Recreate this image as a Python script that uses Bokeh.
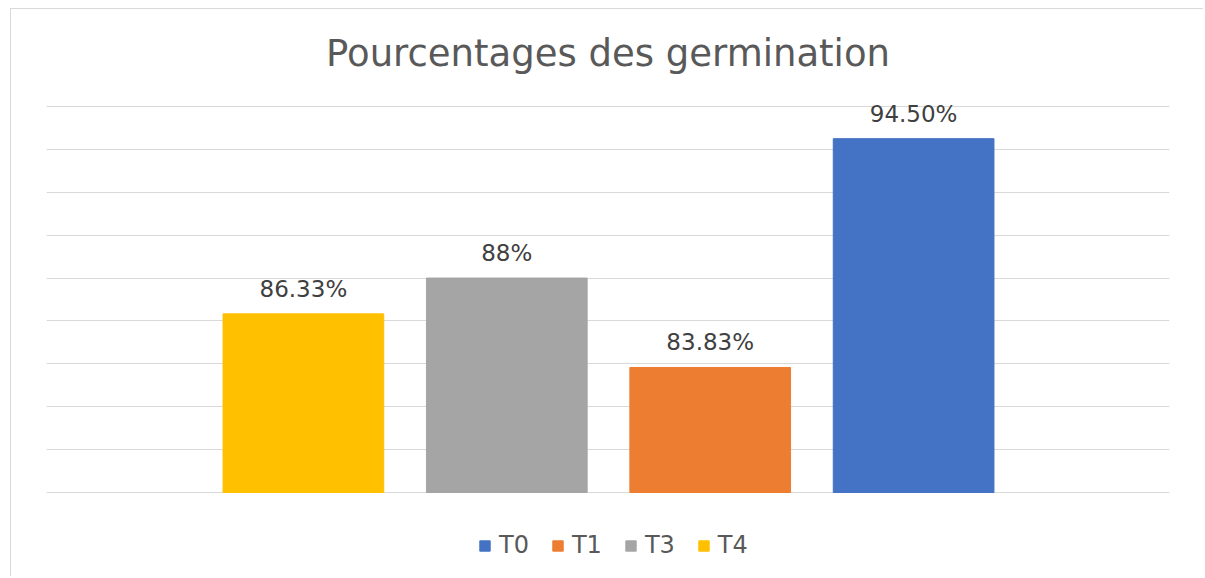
from bokeh.plotting import figure
from bokeh.models import ColumnDataSource, Range1d, FixedTicker, LabelSet, Label, Legend, LegendItem
from bokeh.core.properties import value
from bokeh.embed import file_html
from bokeh.resources import INLINE

# ---- data ----
title_text = "Pourcentages des germination"
series = ["T4", "T3", "T1", "T0"]
values = [86.33, 88.0, 83.83, 94.50]
value_labels = ["86.33%", "88%", "83.83%", "94.50%"]
colors = ["#FFC000", "#A5A5A5", "#ED7D31", "#4472C4"]
legend_order = ["T0", "T1", "T3", "T4"]
y_min, y_max, y_step = 78, 96, 2

FONT = "DejaVu Sans"

# ---- layout constants (pixels) ----
W, H = 1193, 568
B_LEFT, B_RIGHT = 35, 35
GRID_PX = 386.0          # pixel height of the y_min..y_max band
ABOVE_PX = 97.0          # space above the top gridline (title area)
TITLE_PX = 53.0          # title centre distance above top gridline
px_per_unit = GRID_PX / (y_max - y_min)
below_px = H - ABOVE_PX - GRID_PX
y_hi = y_max + ABOVE_PX / px_per_unit
y_lo = y_min - below_px / px_per_unit

src = ColumnDataSource(dict(
    x=list(range(len(series))),
    top=values,
    name=series,
    lab=value_labels,
    color=colors,
))

x_lo, x_hi = -1.263, len(series) - 1 + 1.258
p = figure(width=W, height=H, output_backend="svg", toolbar_location=None,
           x_range=Range1d(x_lo, x_hi), y_range=Range1d(y_lo, y_hi),
           min_border_left=B_LEFT, min_border_right=B_RIGHT, min_border_top=0,
           min_border_bottom=0)
p.styles = {"border-top": "1px solid #d9d9d9", "border-left": "1px solid #d9d9d9",
            "margin-left": "10px", "margin-top": "8px"}

p.xaxis.visible = False
p.yaxis.visible = False
p.xgrid.visible = False
p.ygrid.ticker = FixedTicker(ticks=list(range(y_min, y_max + 1, y_step)))
p.ygrid.grid_line_color = "#D9D9D9"
p.ygrid.grid_line_width = 1
p.outline_line_color = None

title = Label(x=(x_lo + x_hi) / 2, y=y_max + TITLE_PX / px_per_unit, text=title_text,
              text_align="center", text_baseline="middle", text_font=FONT,
              text_font_size="37px", text_color="#595959")
p.add_layout(title)

r = p.vbar(x="x", top="top", bottom=y_min, width=0.79, color="color", source=src)

labels = LabelSet(x="x", y="top", text="lab", source=src, text_align="center",
                  text_baseline="middle", y_offset=25, text_font=value(FONT),
                  text_font_size="23px", text_color="#404040")
p.add_layout(labels)

items = [LegendItem(label=s, renderers=[r], index=series.index(s)) for s in legend_order]
legend = Legend(items=items, orientation="horizontal", location=(432, 18),
                glyph_width=13, glyph_height=13, label_standoff=8, spacing=22,
                label_height=24, padding=0, margin=0, border_line_color=None,
                background_fill_alpha=0,
                label_text_font=FONT, label_text_font_size="24px", label_text_color="#595959")
p.add_layout(legend)

open("out.html", "w").write(file_html(p, INLINE))
